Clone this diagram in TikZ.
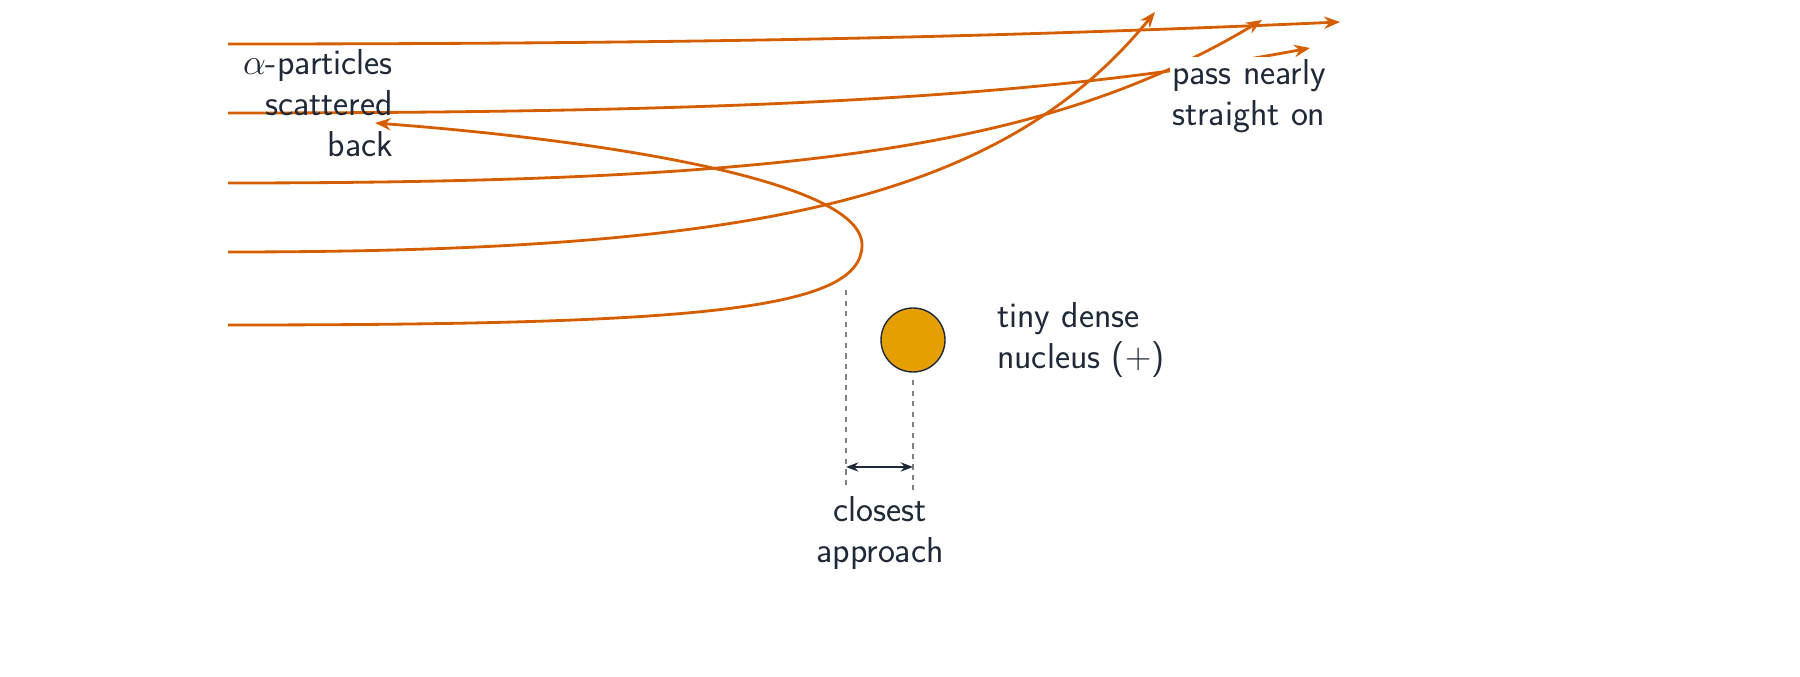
\documentclass[tikz,border=0pt]{standalone}
\usepackage{fontspec}
\usetikzlibrary{arrows.meta}
\definecolor{traj}{RGB}{213,94,0}
\definecolor{nuc}{RGB}{230,159,0}
\definecolor{ink}{RGB}{31,41,55}
\begin{document}
\begin{tikzpicture}[path/.style={traj,line width=1.6pt,-{Stealth[length=9pt,width=7pt]}},
  lbl/.style={text=ink,font=\sffamily\fontsize{20.5}{23.5}\selectfont,align=left,inner sep=1pt},
  guide/.style={gray,dashed,line width=0.8pt}]
\useasboundingbox (0,0) rectangle (36,13.54);
% alpha paths
\coordinate (s1) at (4.56,12.66);
\coordinate (s2) at (4.56,11.28);
\coordinate (s3) at (4.56,9.88);
\coordinate (s4) at (4.56,8.5);
\coordinate (s5) at (4.56,7.04);
\coordinate (e1) at (26.8,13.1);
\coordinate (e2) at (26.2,12.58);
\coordinate (e3) at (25.24,13.14);
\coordinate (e4) at (23.1,13.3);
\coordinate (e5) at (7.5,11.08);
\coordinate (turn) at (17.24,8.64);
\draw[path] (s1) .. controls (14,12.66) and (20,12.8) .. (e1);
\draw[path] (s2) .. controls (15,11.28) and (21,11.6) .. (e2);
\draw[path] (s3) .. controls (16,9.88) and (21,10.6) .. (e3);
\draw[path] (s4) .. controls (15,8.5) and (20,9.5) .. (e4);
\draw[path] (s5) .. controls (14,7.04) and (17.24,7.34) .. (turn)
  .. controls (17.24,9.94) and (12,10.74) .. (e5);
% nucleus
\node[circle,draw=ink,fill=nuc,line width=0.8pt,minimum size=1.28cm] (nucleus) at (18.26,6.74) {};
\node[lbl,anchor=west] (nuclbl) at (19.9,6.74) {tiny dense\\nucleus ($+$)};
% labels
\node[lbl,anchor=north east,align=right] (back) at (7.9,12.6) {$\alpha$-particles\\scattered\\back};
\node[lbl,anchor=north west,fill=white] (straight) at (23.4,12.4) {pass nearly\\straight on};
% closest approach
\coordinate (d1) at (16.92,7.74);
\coordinate (d2) at (16.92,3.74);
\coordinate (d3) at (18.26,5.94);
\coordinate (d4) at (18.26,3.74);
\draw[guide] (d1) -- (d2);
\draw[guide] (d3) -- (d4);
\coordinate (a1) at (16.92,4.2);
\coordinate (a2) at (18.26,4.2);
\draw[ink,line width=1.2pt,{Stealth[length=7pt]}-{Stealth[length=7pt]}] (a1) -- (a2);
\node[lbl,anchor=north,align=center] (closest) at (17.6,3.66) {closest\\approach};
\end{tikzpicture}
\end{document}
